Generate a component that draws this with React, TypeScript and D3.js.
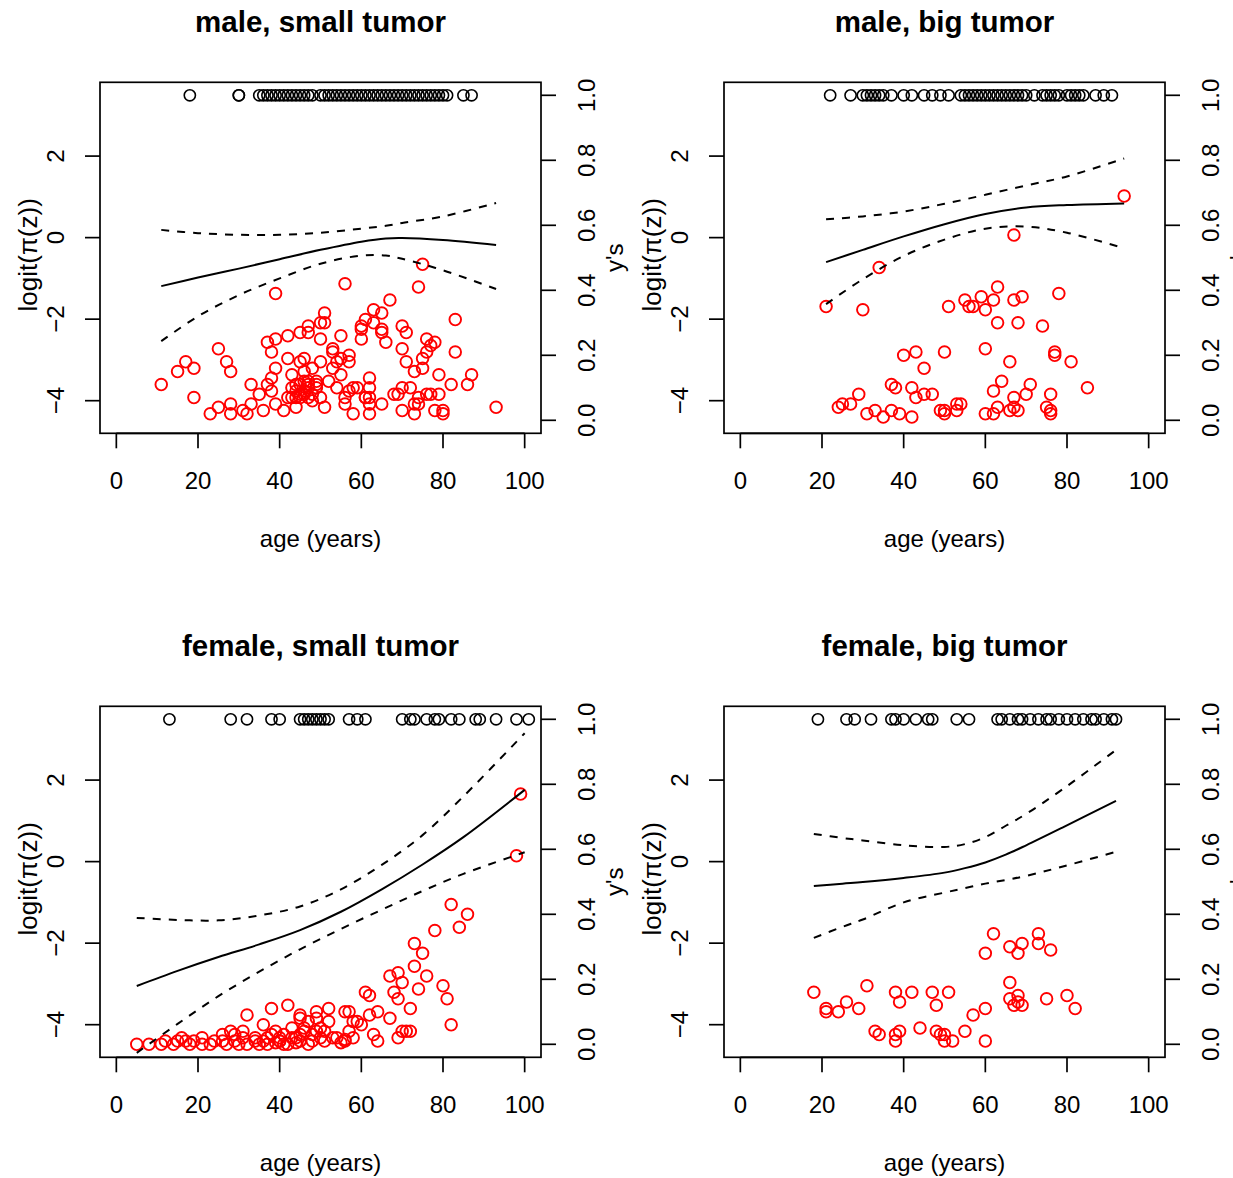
import React from 'react';
import * as d3 from 'd3';

// ---------- data ----------
const titles = ['male, small tumor', 'male, big tumor', 'female, small tumor', 'female, big tumor'];
const xTicks = [0, 20, 40, 60, 80, 100];
const logitTicks = [-4, -2, 0, 2];
const ysTicks = [0, 0.2, 0.4, 0.6, 0.8, 1.0];
const xLabel = 'age (years)';
const leftLabel = 'logit(\u03c0(z))';
const rightLabel = "y's";

// fitted curve (logit scale) with pointwise bands
const p1Ages = [11, 20, 30, 40, 50, 60, 66, 70, 80, 93];
const p1Fit = [-1.19, -0.98, -0.76, -0.53, -0.3, -0.1, -0.02, -0.01, -0.06, -0.18];
const p1Lo = [-2.54, -1.93, -1.41, -1.0, -0.64, -0.44, -0.44, -0.52, -0.8, -1.26];
const p1Hi = [0.19, 0.11, 0.07, 0.07, 0.12, 0.22, 0.29, 0.36, 0.52, 0.85];

const p2Ages = [21, 30, 40, 50, 60, 70, 80, 94];
const p2Fit = [-0.6, -0.3, 0.03, 0.33, 0.58, 0.74, 0.8, 0.84];
const p2Lo = [-1.63, -1.02, -0.45, -0.05, 0.22, 0.27, 0.12, -0.26];
const p2Hi = [0.45, 0.52, 0.64, 0.83, 1.05, 1.28, 1.5, 1.94];

const p3Ages = [5, 15, 25, 35, 45, 55, 65, 75, 85, 100];
const p3Fit = [-3.05, -2.68, -2.34, -2.03, -1.68, -1.23, -0.68, -0.07, 0.6, 1.76];
const p3Lo = [-4.69, -3.98, -3.3, -2.7, -2.15, -1.65, -1.18, -0.72, -0.3, 0.23];
const p3Hi = [-1.38, -1.43, -1.44, -1.32, -1.1, -0.68, -0.08, 0.65, 1.6, 3.15];

const p4Ages = [18, 25, 30, 40, 50, 55, 60, 65, 70, 79, 92];
const p4Fit = [-0.6, -0.54, -0.5, -0.4, -0.27, -0.16, -0.02, 0.17, 0.4, 0.84, 1.49];
const p4Lo = [-1.87, -1.6, -1.42, -1.0, -0.76, -0.65, -0.54, -0.45, -0.35, -0.12, 0.24];
const p4Hi = [0.68, 0.58, 0.52, 0.4, 0.36, 0.43, 0.6, 0.88, 1.17, 1.78, 2.74];

// ages of observations with y = 1 (black circles at the top)
const p1Ones = [18, 30, 30, 35, 36, 37, 38, 39, 40, 41, 42, 43, 44, 45, 46, 47, 48, 50, 51, 52, 53, 54, 55, 56, 57, 58, 59, 60, 61, 62, 63, 64, 65, 66, 67, 68, 69, 70, 71, 72, 73, 74, 75, 76, 77, 78, 79, 80, 81, 85, 87];
const p2Ones = [22, 27, 30, 31, 32, 33, 34, 35, 37, 40, 42, 45, 47, 49, 51, 54, 55, 56, 57, 58, 59, 60, 61, 62, 63, 64, 65, 66, 67, 68, 69, 70, 72, 74, 75, 76, 77, 78, 80, 81, 82, 83, 84, 87, 89, 91];
const p3Ones = [13, 28, 32, 38, 40, 45, 46, 47, 48, 49, 50, 51, 52, 57, 59, 61, 70, 72, 73, 76, 78, 79, 82, 84, 88, 89, 93, 98, 101];
const p4Ones = [19, 26, 28, 32, 37, 38, 40, 43, 46, 47, 53, 56, 63, 64, 66, 68, 69, 71, 73, 75, 76, 78, 80, 82, 84, 86, 87, 89, 91, 92];

// red circles: [age, y's value]
const p1Red = [[11,.11],[15,.15],[17,.18],[19,.16],[19,.07],[23,.02],[25,.04],[25,.22],[27,.18],[28,.15],[28,.05],[28,.02],[31,.03],[32,.02],[33,.11],[33,.05],[35,.08],[36,.03],[37,.24],[37,.11],[38,.21],[38,.09],[38,.13],[39,.39],[39,.25],[39,.16],[39,.05],[41,.03],[42,.26],[42,.19],[43,.14],[43,.10],[44,.07],[44,.04],[45,.27],[45,.18],[46,.19],[46,.15],[46,.12],[46,.09],[47,.07],[47,.29],[47,.27],[47,.11],[48,.06],[48,.16],[49,.10],[49,.11],[50,.30],[50,.25],[50,.18],[50,.07],[51,.33],[51,.30],[51,.04],[52,.12],[53,.22],[53,.16],[53,.21],[54,.18],[54,.10],[55,.19],[55,.14],[55,.26],[56,.07],[56,.05],[56,.42],[57,.20],[57,.18],[57,.09],[58,.02],[58,.10],[59,.10],[60,.29],[60,.25],[60,.28],[61,.31],[61,.07],[62,.13],[62,.10],[62,.02],[62,.07],[63,.34],[63,.30],[65,.05],[65,.33],[65,.28],[65,.27],[66,.24],[67,.37],[68,.08],[69,.08],[70,.03],[70,.22],[70,.29],[70,.10],[71,.18],[71,.27],[72,.10],[73,.15],[73,.02],[73,.05],[74,.41],[74,.07],[75,.48],[75,.19],[75,.16],[76,.25],[76,.21],[77,.08],[77,.23],[78,.24],[78,.03],[79,.14],[79,.08],[80,.03],[80,.02],[82,.11],[83,.31],[83,.21],[86,.11],[87,.14],[93,.04],[44,.11],[45,.08],[45,.11],[46,.08],[47,.10],[47,.12],[48,.08],[45,.07],[43,.07],[42,.07],[49,.12],[44,.09],[61,.07],[62,.05],[74,.05],[76,.08]];
const p2Red = [[21,.35],[30,.34],[34,.47],[24,.04],[25,.05],[27,.05],[29,.08],[31,.02],[33,.03],[35,.01],[37,.11],[37,.03],[38,.10],[39,.02],[40,.20],[42,.10],[42,.01],[43,.21],[43,.07],[45,.16],[45,.08],[47,.08],[49,.03],[50,.03],[50,.02],[50,.21],[51,.35],[53,.05],[53,.03],[54,.05],[55,.37],[56,.35],[57,.35],[59,.38],[60,.22],[60,.34],[60,.02],[62,.09],[62,.37],[62,.02],[63,.41],[63,.30],[63,.04],[64,.12],[66,.18],[66,.03],[67,.37],[67,.07],[67,.04],[68,.30],[68,.03],[69,.38],[70,.08],[71,.11],[74,.29],[75,.04],[76,.08],[76,.03],[76,.02],[77,.20],[77,.21],[78,.39],[81,.18],[85,.10],[94,.69],[67,.57]];
const p3Red = [[5,.00],[8,.00],[11,.00],[12,.01],[14,.00],[16,.02],[17,.01],[18,.00],[21,.02],[21,.00],[24,.01],[26,.03],[27,.00],[28,.04],[29,.01],[30,.00],[31,.04],[32,.00],[32,.09],[34,.02],[36,.06],[36,.01],[37,.00],[38,.11],[38,.03],[39,.04],[40,.01],[41,.03],[42,.12],[42,.00],[43,.05],[44,.02],[45,.09],[46,.05],[47,.00],[47,.07],[48,.03],[49,.08],[50,.05],[51,.01],[52,.11],[52,.07],[53,.02],[54,.02],[56,.10],[56,.01],[57,.10],[58,.07],[58,.02],[59,.07],[60,.06],[61,.16],[62,.15],[62,.09],[63,.03],[64,.01],[64,.10],[67,.21],[67,.08],[68,.16],[69,.14],[69,.22],[69,.02],[70,.19],[70,.04],[71,.04],[72,.11],[72,.04],[73,.31],[73,.24],[74,.17],[75,.28],[76,.21],[78,.35],[80,.18],[81,.14],[82,.06],[82,.43],[84,.36],[86,.40],[98,.58],[99,.77],[34,.01],[35,.00],[37,.02],[39,.005],[40,.02],[40,.01],[41,.00],[43,.02],[44,.005],[45,.03],[45,.01],[46,.04],[48,.01],[49,.04],[50,.02],[51,.04],[55,.005],[56,.015],[57,.04],[49,.10],[45,.08],[26,.01],[23,.00],[19,.01],[15,.01],[31,.02],[29,.03]];
const p4Red = [[18,.16],[21,.11],[21,.10],[24,.10],[26,.13],[29,.11],[31,.18],[33,.04],[34,.03],[38,.16],[38,.03],[38,.01],[39,.13],[39,.04],[42,.16],[44,.05],[47,.16],[48,.12],[48,.04],[49,.03],[50,.03],[50,.01],[51,.16],[52,.01],[55,.04],[57,.09],[60,.11],[60,.01],[60,.28],[62,.34],[66,.19],[66,.14],[66,.30],[67,.12],[68,.28],[68,.15],[68,.13],[69,.31],[69,.12],[73,.34],[73,.31],[75,.14],[76,.29],[80,.15],[82,.11]];

const panels = [
  { title: titles[0], ages: p1Ages, fit: p1Fit, lo: p1Lo, hi: p1Hi, ones: p1Ones, red: p1Red },
  { title: titles[1], ages: p2Ages, fit: p2Fit, lo: p2Lo, hi: p2Hi, ones: p2Ones, red: p2Red },
  { title: titles[2], ages: p3Ages, fit: p3Fit, lo: p3Lo, hi: p3Hi, ones: p3Ones, red: p3Red },
  { title: titles[3], ages: p4Ages, fit: p4Fit, lo: p4Lo, hi: p4Hi, ones: p4Ones, red: p4Red },
];

// ---------- layout ----------
const W = 1233;
const H = 1178;
const STEP = 624;
const FONT = '"Liberation Sans", Arial, Helvetica, sans-serif';
const fmtTick = (v: number) => (v < 0 ? '\u2212' + Math.abs(v) : String(v));

function Panel({ p, col, row }: any) {
  const ox = col * STEP;
  const oy = row * STEP;
  const L = ox + 100, R = ox + 541, T = oy + 82.3, B = oy + 433.3;
  const x = d3.scaleLinear().domain([-4, 104]).range([L, R]);
  const yL = d3.scaleLinear().domain([-4.8, 3.81]).range([B, T]);
  const yR = d3.scaleLinear().domain([-0.04, 1.04]).range([B, T]);
  const midY = (T + B) / 2;
  const midX = (L + R) / 2;
  const tick = 15;
  const sw = 1.7;

  const mk = (vals: number[]) =>
    d3.line<number>().x((_, i) => x(p.ages[i])).y((v) => yL(v)).curve(d3.curveCatmullRom.alpha(0.5))(vals) || '';

  return (
    <g fontFamily={FONT}>
      <text x={midX} y={oy + 32} textAnchor="middle" fontSize={29.5} fontWeight="bold">{p.title}</text>
      <rect x={L} y={T} width={R - L} height={B - T} fill="none" stroke="#000" strokeWidth={sw} />
      {/* bottom axis */}
      <line x1={x(xTicks[0])} x2={x(xTicks[xTicks.length - 1])} y1={B} y2={B} stroke="#000" strokeWidth={sw} />
      {xTicks.map((t) => (
        <g key={'x' + t}>
          <line x1={x(t)} x2={x(t)} y1={B} y2={B + tick} stroke="#000" strokeWidth={sw} />
          <text x={x(t)} y={B + 55.7} textAnchor="middle" fontSize={24}>{t}</text>
        </g>
      ))}
      {/* left axis */}
      {logitTicks.map((t) => (
        <g key={'l' + t}>
          <line x1={L - tick} x2={L} y1={yL(t)} y2={yL(t)} stroke="#000" strokeWidth={sw} />
          <text transform={`translate(${L - 36},${yL(t)}) rotate(-90)`} textAnchor="middle" fontSize={24}>{fmtTick(t)}</text>
        </g>
      ))}
      {/* right axis */}
      {ysTicks.map((t) => (
        <g key={'r' + t}>
          <line x1={R} x2={R + tick} y1={yR(t)} y2={yR(t)} stroke="#000" strokeWidth={sw} />
          <text transform={`translate(${R + 54},${yR(t)}) rotate(-90)`} textAnchor="middle" fontSize={24}>{t.toFixed(1)}</text>
        </g>
      ))}
      <text x={midX} y={B + 113.7} textAnchor="middle" fontSize={24}>{xLabel}</text>
      <text transform={`translate(${ox + 37},${midY - 3}) rotate(-90)`} textAnchor="middle" fontSize={26}>{leftLabel}</text>
      <text transform={`translate(${ox + 623},${midY}) rotate(-90)`} textAnchor="middle" fontSize={24}>{rightLabel}</text>
      {/* y = 1 observations */}
      {p.ones.map((a: number, i: number) => (
        <circle key={'o' + i} cx={x(a)} cy={yR(1)} r={5.6} fill="none" stroke="#000" strokeWidth={1.6} />
      ))}
      {p.red.map((d: number[], i: number) => (
        <circle key={'d' + i} cx={x(d[0])} cy={yR(d[1])} r={5.8} fill="none" stroke="#ff0000" strokeWidth={1.9} />
      ))}
      <path d={mk(p.fit)} fill="none" stroke="#000" strokeWidth={2} />
      <path d={mk(p.lo)} fill="none" stroke="#000" strokeWidth={2} strokeDasharray="8,8" />
      <path d={mk(p.hi)} fill="none" stroke="#000" strokeWidth={2} strokeDasharray="8,8" />
    </g>
  );
}

export default function App() {
  return (
    <svg width={W} height={H} viewBox={`0 0 ${W} ${H}`} style={{ position: 'absolute', left: 0, top: 0, background: '#fff' }}>
      <rect x={0} y={0} width={W} height={H} fill="#fff" />
      {panels.map((p, i) => (
        <Panel key={i} p={p} col={i % 2} row={Math.floor(i / 2)} />
      ))}
    </svg>
  );
}
